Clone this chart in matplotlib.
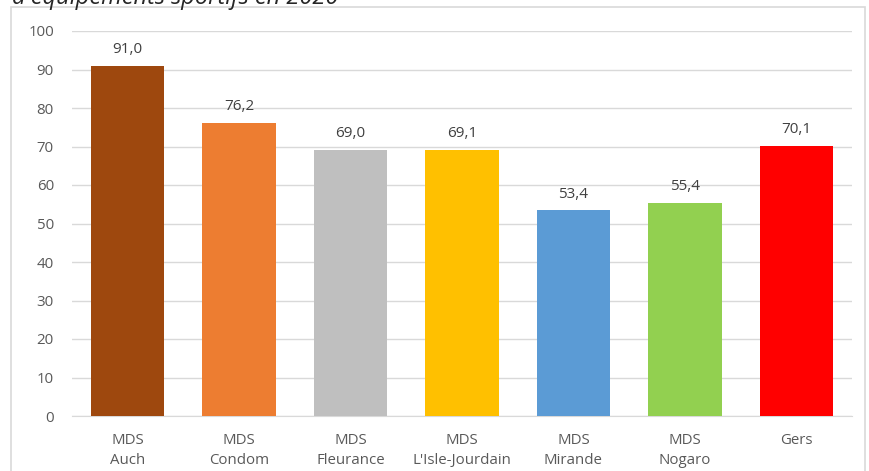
import matplotlib.pyplot as plt
from matplotlib.patches import Rectangle

categories = ["MDS\nAuch", "MDS\nCondom", "MDS\nFleurance", "MDS\nL'Isle-Jourdain",
              "MDS\nMirande", "MDS\nNogaro", "Gers"]
values = [91.0, 76.2, 69.0, 69.1, 53.4, 55.4, 70.1]
colors = ["#9E480E", "#ED7D31", "#BFBFBF", "#FFC000", "#5B9BD5", "#92D050", "#FF0000"]
yticks = list(range(0, 101, 10))

plt.rcParams["font.family"] = ["Open Sans", "DejaVu Sans"]

fig = plt.figure(figsize=(8.69, 4.71), dpi=100)
ax = fig.add_axes([72 / 869, 1 - 416 / 471, 780 / 869, 385 / 471])

x = range(len(categories))
bars = ax.bar(x, values, width=0.66, color=colors, zorder=3)
for b, v in zip(bars, values):
    ax.text(b.get_x() + b.get_width() / 2, v + 2.3, f"{v:.1f}".replace(".", ","),
            ha="center", va="bottom", fontsize=11, color="#404040")

ax.set_xlim(-0.5, len(categories) - 0.5)
ax.set_ylim(0, 100)
ax.set_yticks(yticks)
ax.set_xticks(list(x))
ax.set_xticklabels(categories, fontsize=10.8, color="#595959", linespacing=1.45)
ax.tick_params(axis="y", labelsize=10.8, labelcolor="#595959", length=0, pad=13)
ax.tick_params(axis="x", length=0, pad=12)
ax.grid(axis="y", color="#D9D9D9", linewidth=1, zorder=0)
for s in ["top", "right", "left"]:
    ax.spines[s].set_visible(False)
ax.spines["bottom"].set_color("#D9D9D9")

# chart frame
fig.patches.append(Rectangle((11 / 869, -0.05), 854 / 869, 1 - 7 / 471 + 0.05,
                             transform=fig.transFigure, fill=False,
                             edgecolor="#D9D9D9", linewidth=1.2))

fig.text(12 / 869, 1 - 4 / 471, "d'équipements sportifs en 2020", style="italic",
         fontsize=17, color="#262626", ha="left", va="baseline")

fig.savefig("out.png", dpi=100)
